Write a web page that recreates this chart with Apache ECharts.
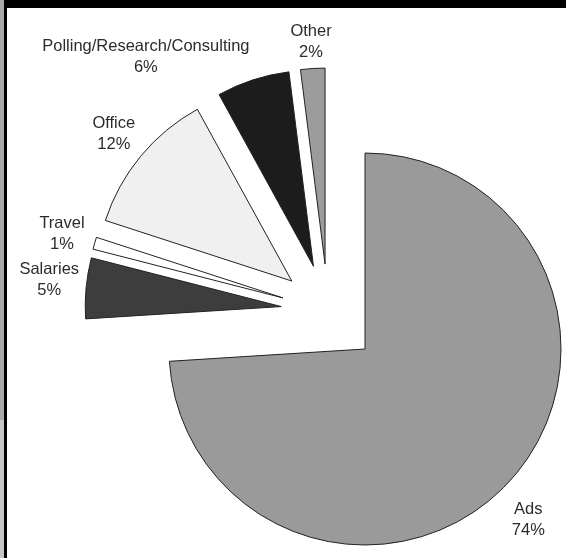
<!DOCTYPE html>
<html><head><meta charset="utf-8">
<script src="https://cdn.jsdelivr.net/npm/echarts@6/dist/echarts.min.js"></script>
<style>html,body{margin:0;padding:0;background:#fff}#c{width:566px;height:558px}</style>
</head><body><div id="c"></div>
<script>
// ---- data ----
const categories = ['Ads', 'Salaries', 'Travel', 'Office', 'Polling/Research/Consulting', 'Other'];
const shares = [74, 5, 1, 12, 6, 2];
const explodedGroup = ['Salaries', 'Travel', 'Office', 'Polling/Research/Consulting', 'Other'];

// ---- styles ----
const sliceColors = ['#9a9a9a', '#3d3d3d', '#ffffff', '#f0f0f0', '#1c1c1c', '#9c9c9c'];
const labelGap = {'Ads': 39, 'Salaries': 38, 'Travel': 34, 'Office': 35, 'Polling/Research/Consulting': 24, 'Other': 27};
const labelLen2 = {'Polling/Research/Consulting': -4};
const labelAlign = {'Polling/Research/Consulting': 'right'};
const labelNudge = {'Ads': [-8, 10], 'Salaries': [1, -5]};

const chart = echarts.init(document.getElementById('c'), null, {renderer: 'canvas'});

function buildData(exploded) {
  return categories.map(function (name, i) {
    const inGroup = explodedGroup.indexOf(name) >= 0;
    const visible = inGroup === exploded;
    return {
      name: name,
      value: shares[i],
      selected: exploded && inGroup,
      itemStyle: visible
        ? {color: sliceColors[i], borderColor: '#222', borderWidth: 1}
        : {color: 'rgba(0,0,0,0)', borderWidth: 0},
      label: {show: visible},
      labelLine: {show: false, length: labelGap[name], length2: labelLen2[name] || 0}
    };
  });
}

const labelOpt = {
  position: 'outside',
  distanceToLabelLine: 0,
  formatter: function (p) { return '{t|' + p.name + '}\n{t|' + p.value + '%}'; },
  rich: {t: {align: 'center', fontSize: 16.5, lineHeight: 21, color: '#2b2b2b', fontFamily: 'Liberation Sans, Arial, sans-serif'}}
};

function layoutFn(p) {
  const name = categories[p.dataIndex];
  const n = labelNudge[name] || [0, 0];
  return {align: labelAlign[name] || 'center', verticalAlign: 'middle', dx: n[0], dy: n[1]};
}

const base = {
  type: 'pie', radius: 196, startAngle: 90, clockwise: true,
  avoidLabelOverlap: false, animation: false, silent: true,
  emphasis: {disabled: true},
  label: labelOpt,
  labelLayout: layoutFn
};

chart.setOption({
  backgroundColor: '#ffffff',
  graphic: [
    {type: 'rect', shape: {x: 0, y: 0, width: 566, height: 8}, style: {fill: '#000'}, z: 100},
    {type: 'rect', shape: {x: 0, y: 0, width: 4, height: 420}, style: {fill: '#a9a9a9'}, z: 100},
    {type: 'rect', shape: {x: 0, y: 420, width: 4, height: 138}, style: {fill: '#c6c6c6'}, z: 100},
    {type: 'rect', shape: {x: 4, y: 0, width: 3, height: 558}, style: {fill: '#000'}, z: 100}
  ],
  series: [
    Object.assign({}, base, {
      name: 'main', center: [365, 349], selectedMode: false,
      data: buildData(false)
    }),
    Object.assign({}, base, {
      name: 'exploded', center: [328, 311], selectedMode: 'multiple', selectedOffset: 47,
      select: {itemStyle: {borderColor: '#222', borderWidth: 1}},
      data: buildData(true)
    })
  ]
});
</script>
</body></html>
